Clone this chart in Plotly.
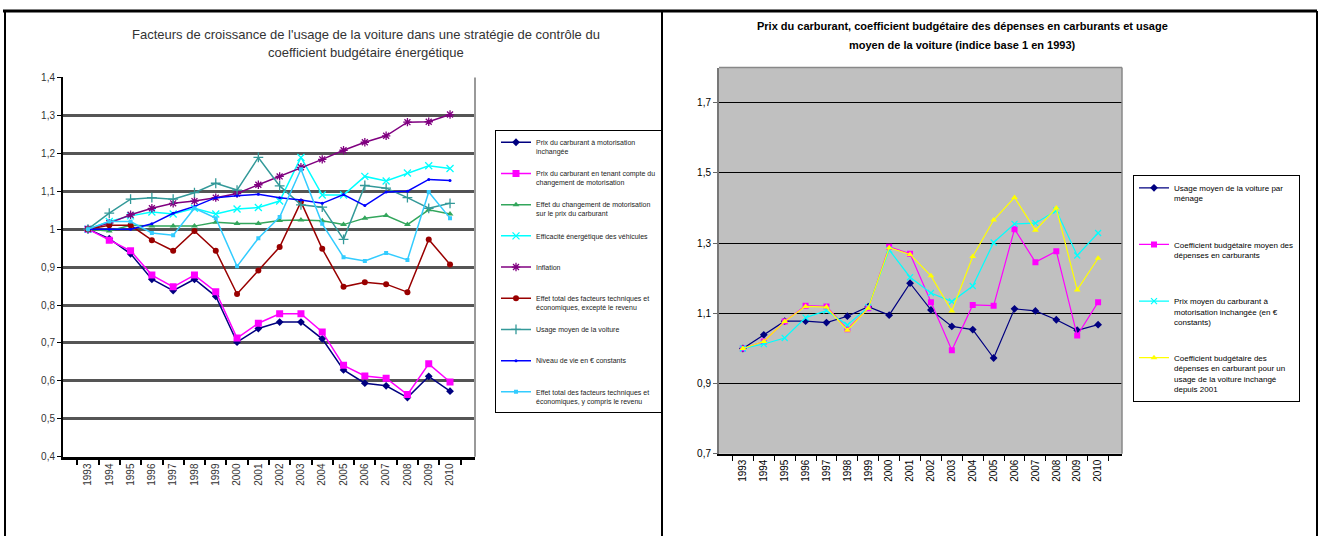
import plotly.graph_objects as go

annees = ['1993', '1994', '1995', '1996', '1997', '1998', '1999', '2000', '2001',
          '2002', '2003', '2004', '2005', '2006', '2007', '2008', '2009', '2010']

# graphique de gauche
prix_motor_inchangee = [1.0, 0.975, 0.935, 0.868, 0.838, 0.868, 0.823, 0.702, 0.738,
                        0.755, 0.755, 0.711, 0.629, 0.594, 0.587, 0.556, 0.612, 0.573]
prix_changement = [1.0, 0.971, 0.943, 0.879, 0.848, 0.879, 0.835, 0.713, 0.752,
                   0.777, 0.777, 0.729, 0.641, 0.613, 0.607, 0.564, 0.645, 0.597]
effet_motorisation = [1.0, 0.995, 1.01, 1.008, 1.008, 1.008, 1.018, 1.015, 1.015,
                      1.023, 1.024, 1.022, 1.012, 1.029, 1.036, 1.012, 1.051, 1.040]
efficacite = [1.0, 1.02, 1.035, 1.045, 1.04, 1.055, 1.04, 1.053, 1.057,
              1.074, 1.189, 1.09, 1.09, 1.139, 1.127, 1.148, 1.167, 1.16]
inflation = [1.0, 1.016, 1.038, 1.055, 1.068, 1.074, 1.083, 1.094, 1.117,
             1.139, 1.163, 1.184, 1.208, 1.229, 1.246, 1.282, 1.283, 1.302]
effet_hors_revenu = [1.0, 1.01, 1.01, 0.971, 0.943, 0.995, 0.943, 0.829, 0.891,
                     0.953, 1.072, 0.948, 0.848, 0.860, 0.855, 0.834, 0.973, 0.907]
usage_moyen = [1.0, 1.042, 1.079, 1.083, 1.079, 1.096, 1.121, 1.103, 1.189,
               1.114, 1.064, 1.058, 0.973, 1.115, 1.108, 1.083, 1.055, 1.068]
niveau_vie = [1.0, 1.0, 1.0, 1.014, 1.042, 1.06, 1.083, 1.088, 1.092,
              1.083, 1.077, 1.068, 1.091, 1.062, 1.098, 1.1, 1.131, 1.128]
effet_avec_revenu = [1.0, 1.02, 1.02, 0.99, 0.984, 1.055, 1.029, 0.902, 0.976,
                     1.032, 1.158, 1.014, 0.926, 0.916, 0.937, 0.919, 1.098, 1.029]

# graphique de droite
usage_menage = [1.0, 1.039, 1.078, 1.078, 1.074, 1.092, 1.119, 1.095, 1.186,
                1.110, 1.063, 1.054, 0.973, 1.113, 1.107, 1.082, 1.052, 1.068]
coef_moyen = [1.0, 1.02, 1.077, 1.122, 1.12, 1.055, 1.115, 1.29, 1.27,
              1.132, 0.995, 1.124, 1.122, 1.34, 1.246, 1.277, 1.037, 1.132]
prix_moyen = [1.0, 1.013, 1.03, 1.088, 1.108, 1.067, 1.118, 1.281, 1.203,
              1.158, 1.134, 1.178, 1.302, 1.355, 1.357, 1.393, 1.265, 1.329]
coef_usage_inchange = [1.0, 1.02, 1.077, 1.12, 1.118, 1.052, 1.115, 1.287, 1.268,
                       1.207, 1.107, 1.262, 1.366, 1.43, 1.337, 1.40, 1.167, 1.257]

W, H = 1320, 542
police = "Liberation Sans, Arial"

gauche = [
    ("Prix du carburant à motorisation<br>inchangée", prix_motor_inchangee, "#000080", "diamond", 6),
    ("Prix du carburant en tenant compte du<br>changement de motorisation", prix_changement, "#FF00FF", "square", 7),
    ("Effet du changement de motorisation<br>sur le prix du carburant", effet_motorisation, "#33A65C", "triangle-up", 6),
    ("Efficacité énergétique des véhicules<br> ", efficacite, "#00FFFF", "x-thin", 7),
    ("Inflation<br> ", inflation, "#800080", "asterisk", 7),
    ("Effet total des facteurs techniques et<br>économiques, excepté le revenu", effet_hors_revenu, "#990000", "circle", 6),
    ("Usage moyen de la voiture<br> ", usage_moyen, "#339999", "cross-thin", 7),
    ("Niveau de vie en € constants<br> ", niveau_vie, "#0000FF", "circle", 3),
    ("Effet total des facteurs techniques et<br>économiques, y compris le revenu", effet_avec_revenu, "#33CCFF", "square", 4),
]

droite = [
    ("Usage moyen de la voiture par<br>ménage<br> <br> ", usage_menage, "#000080", "diamond", 6),
    ("Coefficient budgétaire moyen des<br>dépenses en carburants<br> <br> ", coef_moyen, "#FF00FF", "square", 6),
    ("Prix moyen du carburant à<br>motorisation inchangée (en €<br>constants)<br> ", prix_moyen, "#00FFFF", "x-thin", 6),
    ("Coefficient budgétaire des<br>dépenses en carburant pour un<br>usage de la voiture inchangé<br>depuis 2001", coef_usage_inchange, "#FFFF00", "triangle-up", 6),
]

fig = go.Figure()

for i, (nom, vals, coul, symb, taille) in enumerate(gauche):
    fin = symb in ("x-thin", "cross-thin", "asterisk")
    fig.add_trace(go.Scatter(
        x=annees, y=vals, name=nom, mode="lines+markers",
        line=dict(color=coul, width=1.5),
        marker=dict(symbol=symb, size=taille, color=coul,
                    line=dict(color=coul, width=1.3 if fin else 0)),
        xaxis="x", yaxis="y", legend="legend", legendgroup="g%d" % i,
    ))

for i, (nom, vals, coul, symb, taille) in enumerate(droite):
    fin = symb == "x-thin"
    fig.add_trace(go.Scatter(
        x=annees, y=vals, name=nom, mode="lines+markers",
        line=dict(color=coul, width=1.2),
        marker=dict(symbol=symb, size=taille, color=coul,
                    line=dict(color=coul, width=1.2 if fin else 0)),
        xaxis="x2", yaxis="y2", legend="legend2", legendgroup="d%d" % i,
    ))


def px_x(a, b):
    return [a / W, b / W]


def px_y(top, bottom):
    return [1 - bottom / H, 1 - top / H]


def titre(texte, x, y, taille, couleur):
    return dict(text=texte, x=x / W, y=1 - y / H, xref="paper", yref="paper",
                showarrow=False, xanchor="center", yanchor="middle",
                font=dict(family=police, size=taille, color=couleur))


fig.update_layout(
    width=W, height=H, margin=dict(l=0, r=0, t=0, b=0),
    paper_bgcolor="white", plot_bgcolor="white",
    separators=", ",
    showlegend=True,
    xaxis=dict(domain=px_x(63, 475), type="category", tickson="boundaries",
               ticks="outside", ticklen=5, tickcolor="black", tickwidth=1.5,
               tickangle=-90, showgrid=False, showline=True, linecolor="black",
               linewidth=2.5, zeroline=False,
               tickfont=dict(family=police, size=10, color="#333")),
    yaxis=dict(domain=px_y(73, 461), range=[0.4, 1.4], dtick=0.1, tick0=0.4,
               ticks="outside", ticklen=4, tickcolor="black", showline=True,
               linecolor="black", linewidth=2, gridcolor="#555555", gridwidth=2.5,
               zeroline=False, tickfont=dict(family=police, size=10, color="#333")),
    xaxis2=dict(domain=px_x(719, 1122), type="category", tickson="boundaries",
                ticks="outside", ticklen=5, tickcolor="black", tickangle=-90,
                showgrid=False, showline=True, linecolor="black", linewidth=1.5,
                zeroline=False, anchor="y2",
                tickfont=dict(family=police, size=10, color="black")),
    yaxis2=dict(domain=px_y(63, 458), range=[0.7, 1.8], dtick=0.2, tick0=0.7,
                ticks="outside", ticklen=4, tickcolor="#666", showline=True,
                linecolor="#777", linewidth=2, gridcolor="black", gridwidth=1,
                zeroline=False, anchor="x2",
                tickfont=dict(family=police, size=10, color="black")),
    legend=dict(x=495 / W, y=1 - 127 / H, xanchor="left", yanchor="top",
                bordercolor="black", borderwidth=1, bgcolor="white",
                tracegroupgap=10, valign="top", itemwidth=30,
                font=dict(family=police, size=7, color="#222")),
    legend2=dict(x=1133 / W, y=1 - 173 / H, xanchor="left", yanchor="top",
                 bordercolor="black", borderwidth=1, bgcolor="white",
                 tracegroupgap=12, valign="top", itemwidth=30,
                 font=dict(family=police, size=8, color="black")),
    annotations=[
        titre("Facteurs de croissance de l'usage de la voiture dans une stratégie de contrôle du",
              366, 29, 13, "#333"),
        titre("coefficient budgétaire énergétique", 366, 48, 13, "#333"),
        titre("<b>Prix du carburant, coefficient budgétaire des dépenses en carburants et usage</b>",
              963, 20, 11, "black"),
        titre("<b>moyen de la voiture (indice base 1 en 1993)</b>", 963, 40, 11, "black"),
    ],
    shapes=[
        # fond gris du graphique de droite
        dict(type="rect", xref="x2 domain", yref="y2 domain", x0=0, x1=1, y0=0, y1=1,
             fillcolor="#C0C0C0", line=dict(width=0), layer="below"),
        # bordures des zones de tracé
        dict(type="line", xref="x domain", yref="y domain", x0=1, x1=1, y0=0, y1=1,
             line=dict(color="#999", width=2)),
        dict(type="line", xref="x2 domain", yref="y2 domain", x0=1, x1=1, y0=0, y1=1,
             line=dict(color="#888", width=1.5)),
        dict(type="line", xref="x2 domain", yref="y2 domain", x0=0, x1=1, y0=1, y1=1,
             line=dict(color="#888", width=1.5)),
        # cadres des deux panneaux
        dict(type="line", xref="paper", yref="paper", x0=3 / W, x1=1317 / W,
             y0=1 - 5 / H, y1=1 - 5 / H, line=dict(color="black", width=3)),
        dict(type="line", xref="paper", yref="paper", x0=5 / W, x1=5 / W,
             y0=0, y1=1 - 5 / H, line=dict(color="black", width=2)),
        dict(type="line", xref="paper", yref="paper", x0=662 / W, x1=662 / W,
             y0=0, y1=1 - 5 / H, line=dict(color="black", width=2)),
        dict(type="line", xref="paper", yref="paper", x0=1317 / W, x1=1317 / W,
             y0=0, y1=1 - 5 / H, line=dict(color="black", width=2)),
    ],
)

fig.write_html("out.html", config={"displayModeBar": False},
               post_script="document.body.style.margin='0';document.body.style.overflow='hidden';")
